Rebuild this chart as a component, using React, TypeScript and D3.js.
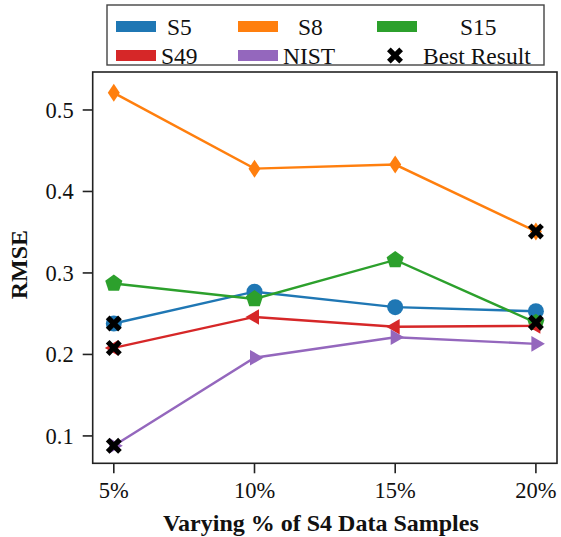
import React from "react";
import * as d3 from "d3";

const categories = [5, 10, 15, 20];
const xTickLabels = ["5%", "10%", "15%", "20%"];
const yTicks = [0.1, 0.2, 0.3, 0.4, 0.5];

const s5 = [0.238, 0.277, 0.258, 0.253];
const s8 = [0.521, 0.428, 0.433, 0.351];
const s15 = [0.287, 0.268, 0.316, 0.239];
const s49 = [0.208, 0.246, 0.234, 0.235];
const nist = [0.088, 0.196, 0.221, 0.213];

const seriesNames = ["S5", "S8", "S15", "S49", "NIST"];
const seriesValues = [s5, s8, s15, s49, nist];
const seriesColors = ["#1f77b4", "#ff7f0e", "#2ca02c", "#d62728", "#9467bd"];
const seriesMarkers = ["circle", "thin_diamond", "pentagon", "triangle_left", "triangle_right"];

// best result: [series index, category index]
const bestResults: [number, number][] = [
  [0, 0],
  [3, 0],
  [4, 0],
  [1, 3],
  [2, 3],
];

const W = 561;
const H = 537;
const M = { left: 92.7, right: 557, top: 72, bottom: 463.3 };
const FONT = "'Liberation Serif', 'Times New Roman', Times, serif";

function markerPath(kind: string): string {
  if (kind === "circle") {
    const r = 8;
    return `M${r},0A${r},${r} 0 1,1 ${-r},0A${r},${r} 0 1,1 ${r},0Z`;
  }
  if (kind === "thin_diamond") {
    const hw = 6, hh = 9;
    return `M0,${-hh}L${hw},0L0,${hh}L${-hw},0Z`;
  }
  if (kind === "pentagon") {
    const r = 9;
    const pts = d3.range(5).map((i) => {
      const a = -Math.PI / 2 + (i * 2 * Math.PI) / 5;
      return [r * Math.cos(a), r * Math.sin(a)];
    });
    return "M" + pts.map((p) => p.join(",")).join("L") + "Z";
  }
  if (kind === "triangle_left") {
    const r = 9;
    return `M${-r},0L${r * 0.5},${-r * 0.866}L${r * 0.5},${r * 0.866}Z`;
  }
  if (kind === "triangle_right") {
    const r = 9;
    return `M${r},0L${-r * 0.5},${-r * 0.866}L${-r * 0.5},${r * 0.866}Z`;
  }
  return "";
}

function xMarkerPath(): string {
  const L = 8.7, w = 2.6;
  const plus = [
    [-w, -L], [w, -L], [w, -w], [L, -w], [L, w], [w, w],
    [w, L], [-w, L], [-w, w], [-L, w], [-L, -w], [-w, -w],
  ];
  const c = Math.SQRT1_2;
  const rot = plus.map(([x, y]) => [x * c - y * c, x * c + y * c]);
  return "M" + rot.map((p) => p.map((v) => v.toFixed(2)).join(",")).join("L") + "Z";
}

export default function App() {
  const x = d3.scaleLinear().domain([4.25, 20.75]).range([M.left, M.right]);
  const y = d3.scaleLinear().domain([0.0664, 0.5466]).range([M.bottom, M.top]);
  const line = d3
    .line<number>()
    .x((_, i) => x(categories[i]))
    .y((d) => y(d));

  const legendItems = [
    { kind: "patch", color: seriesColors[0], label: "S5", px: 116, tx: 167, row: 0 },
    { kind: "patch", color: seriesColors[1], label: "S8", px: 238, tx: 298, row: 0 },
    { kind: "patch", color: seriesColors[2], label: "S15", px: 377, tx: 460, row: 0 },
    { kind: "patch", color: seriesColors[3], label: "S49", px: 116, tx: 161, row: 1 },
    { kind: "patch", color: seriesColors[4], label: "NIST", px: 238, tx: 283, row: 1 },
    { kind: "x", color: "#000", label: "Best Result", px: 387, tx: 423, row: 1 },
  ];
  const rowY = [26.5, 55.5];

  return (
    <svg
      width={W}
      height={H}
      style={{ position: "absolute", left: 0, top: 0, background: "#fff", fontFamily: FONT }}
      fontFamily={FONT}
    >
      <rect x={0} y={0} width={W} height={H} fill="#fff" />
      {/* series */}
      {seriesValues.map((vals, si) => (
        <g key={seriesNames[si]}>
          <path d={line(vals) || ""} fill="none" stroke={seriesColors[si]} strokeWidth={2.4} />
          {vals.map((v, i) => (
            <path
              key={i}
              d={markerPath(seriesMarkers[si])}
              transform={`translate(${x(categories[i])},${y(v)})`}
              fill={seriesColors[si]}
            />
          ))}
        </g>
      ))}
      {/* best results */}
      {bestResults.map(([si, ci], k) => (
        <path
          key={k}
          d={xMarkerPath()}
          transform={`translate(${x(categories[ci])},${y(seriesValues[si][ci])})`}
          fill="#000"
        />
      ))}
      {/* axes frame */}
      <rect
        x={M.left}
        y={M.top}
        width={M.right - M.left}
        height={M.bottom - M.top}
        fill="none"
        stroke="#222"
        strokeWidth={1.6}
      />
      {/* y ticks */}
      {yTicks.map((t) => (
        <g key={t} transform={`translate(0,${y(t)})`}>
          <line x1={M.left - 10} x2={M.left} stroke="#222" strokeWidth={1.6} />
          <text x={M.left - 19} dy="0.35em" textAnchor="end" fontSize={22.5} fill="#111">
            {d3.format(".1f")(t)}
          </text>
        </g>
      ))}
      {/* x ticks */}
      {categories.map((c, i) => (
        <g key={c} transform={`translate(${x(c)},0)`}>
          <line y1={M.bottom} y2={M.bottom + 10} stroke="#222" strokeWidth={1.6} />
          <text y={498} textAnchor="middle" fontSize={22.5} fill="#111">
            {xTickLabels[i]}
          </text>
        </g>
      ))}
      {/* axis labels */}
      <text
        transform={`translate(27,${(M.top + M.bottom) / 2 - 3}) rotate(-90)`}
        textAnchor="middle"
        fontSize={24}
        fontWeight="bold"
        fill="#111"
      >
        RMSE
      </text>
      <text
        x={(M.left + M.right) / 2 - 4}
        y={531}
        textAnchor="middle"
        fontSize={24}
        fontWeight="bold"
        fill="#111"
      >
        Varying % of S4 Data Samples
      </text>
      {/* legend */}
      <rect x={107} y={5} width={437} height={60} fill="#fff" stroke="#444" strokeWidth={1.4} />
      {legendItems.map((it) => (
        <g key={it.label}>
          {it.kind === "patch" ? (
            <rect x={it.px} y={rowY[it.row] - 5.5} width={40} height={11} fill={it.color} />
          ) : (
            <path d={xMarkerPath()} transform={`translate(${it.px + 8},${rowY[it.row]})`} fill="#000" />
          )}
          <text x={it.tx} y={rowY[it.row]} dy="0.35em" fontSize={23.5} fill="#111">
            {it.label}
          </text>
        </g>
      ))}
    </svg>
  );
}
